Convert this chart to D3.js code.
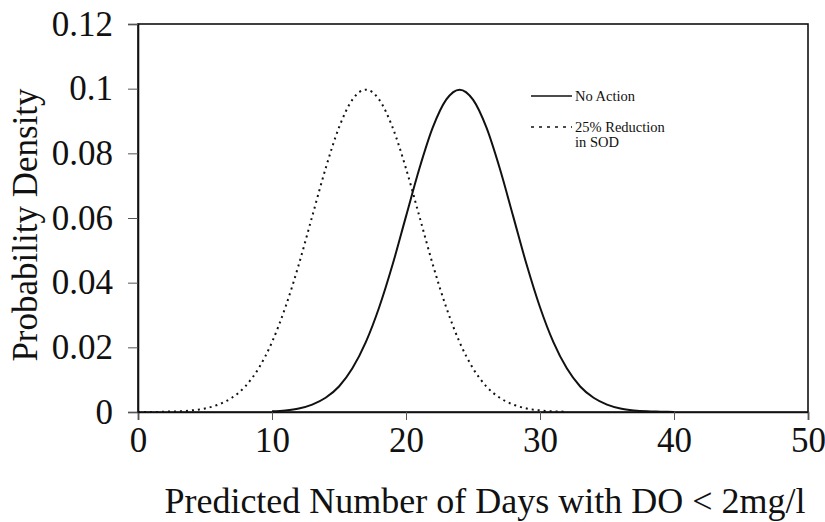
<!DOCTYPE html>
<html>
<head>
<meta charset="utf-8">
<script src="https://cdn.jsdelivr.net/npm/d3@7"></script>
<style>
  body { margin: 0; background: #fff; }
  text { font-family: "Liberation Serif", "DejaVu Serif", serif; fill: #111; }
</style>
</head>
<body>
<script>
// probability density curves (days -> density)
const reducedDays = d3.range(0, 33);
const reducedDensity = [
  0, 0, 0.0001, 0.0002, 0.0005, 0.0011, 0.0023, 0.0044, 0.0079, 0.0135,
  0.0216, 0.0324, 0.0456, 0.0605, 0.0753, 0.0880, 0.0966, 0.0997, 0.0966, 0.0880,
  0.0753, 0.0605, 0.0456, 0.0324, 0.0216, 0.0135, 0.0079, 0.0044, 0.0023, 0.0011,
  0.0005, 0.0002, 0.0001
];

const noActionDays = d3.range(10, 41);
const noActionDensity = [
  0.0002, 0.0005, 0.0011, 0.0023, 0.0044, 0.0079, 0.0135, 0.0216, 0.0324, 0.0456,
  0.0605, 0.0753, 0.0880, 0.0966, 0.0997, 0.0966, 0.0880, 0.0753, 0.0605, 0.0456,
  0.0324, 0.0216, 0.0135, 0.0079, 0.0044, 0.0023, 0.0011, 0.0005, 0.0002, 0.0001, 0
];

const xTicks = [0, 10, 20, 30, 40, 50];
const yTicks = [0, 0.02, 0.04, 0.06, 0.08, 0.1, 0.12];

const width = 825;
const height = 522;
const margin = ({top: 24, right: 17, bottom: 110, left: 138});

const xScale = d3.scaleLinear()
  .domain([0, 50])
  .range([margin.left, width - margin.right]);

const yScale = d3.scaleLinear()
  .domain([0, 0.12])
  .range([height - margin.bottom, margin.top]);

const svg = d3.select('body')
  .append('svg')
  .attr('width', width)
  .attr('height', height);

// frame
svg.append('rect')
  .attr('x', xScale(0))
  .attr('y', yScale(0.12))
  .attr('width', xScale(50) - xScale(0))
  .attr('height', yScale(0) - yScale(0.12))
  .attr('fill', 'none')
  .attr('stroke', '#111')
  .attr('stroke-width', 1.6);

// Y axis
const yAxis = d3.axisLeft(yScale)
  .tickValues(yTicks)
  .tickSize(10)
  .tickPadding(15)
  .tickFormat(d => d === 0 ? '0' : String(+d.toFixed(2)));

svg.append('g')
  .attr('transform', `translate(${margin.left},0)`)
  .call(yAxis)
  .call(g => g.select('.domain').attr('stroke', '#111').attr('stroke-width', 1.6))
  .call(g => g.selectAll('line').attr('stroke', '#555'))
  .call(g => g.selectAll('text').attr('font-size', 35).attr('font-family', 'Liberation Serif').attr('fill', '#111'));

// X axis
const xAxis = d3.axisBottom(xScale)
  .tickValues(xTicks)
  .tickSize(8)
  .tickPadding(7)
  .tickFormat(d3.format('d'));

svg.append('g')
  .attr('transform', `translate(0,${height - margin.bottom})`)
  .call(xAxis)
  .call(g => g.select('.domain').attr('stroke', '#111').attr('stroke-width', 1.6))
  .call(g => g.selectAll('line').attr('stroke', '#555'))
  .call(g => g.selectAll('text').attr('font-size', 35).attr('font-family', 'Liberation Serif').attr('fill', '#111'));

// curves
const line = d3.line()
  .x(d => xScale(d[0]))
  .y(d => yScale(d[1]))
  .curve(d3.curveMonotoneX);

svg.append('path')
  .datum(reducedDays.map((d, i) => [d, reducedDensity[i]]))
  .attr('d', line)
  .attr('fill', 'none')
  .attr('stroke', '#111')
  .attr('stroke-width', 2)
  .attr('stroke-dasharray', '2,4');

svg.append('path')
  .datum(noActionDays.map((d, i) => [d, noActionDensity[i]]))
  .attr('d', line)
  .attr('fill', 'none')
  .attr('stroke', '#111')
  .attr('stroke-width', 2);

// legend
const legend = svg.append('g').attr('transform', 'translate(531,96)');
legend.append('line')
  .attr('x1', 0).attr('x2', 41).attr('y1', 0).attr('y2', 0)
  .attr('stroke', '#111').attr('stroke-width', 1.5);
legend.append('text')
  .attr('x', 44).attr('y', 5)
  .attr('font-size', 14.5)
  .text('No Action');
legend.append('line')
  .attr('x1', 0).attr('x2', 41).attr('y1', 31).attr('y2', 31)
  .attr('stroke', '#111').attr('stroke-width', 1.5)
  .attr('stroke-dasharray', '3,5');
legend.append('text')
  .attr('x', 44).attr('y', 36)
  .attr('font-size', 14.5)
  .text('25% Reduction');
legend.append('text')
  .attr('x', 44).attr('y', 51)
  .attr('font-size', 14.5)
  .text('in SOD');

// axis titles
svg.append('text')
  .attr('x', 485)
  .attr('y', 513)
  .attr('text-anchor', 'middle')
  .attr('font-size', 36)
  .text('Predicted Number of Days with DO < 2mg/l');

svg.append('text')
  .attr('transform', 'translate(37,225) rotate(-90)')
  .attr('text-anchor', 'middle')
  .attr('font-size', 35)
  .text('Probability Density');
</script>
</body>
</html>
